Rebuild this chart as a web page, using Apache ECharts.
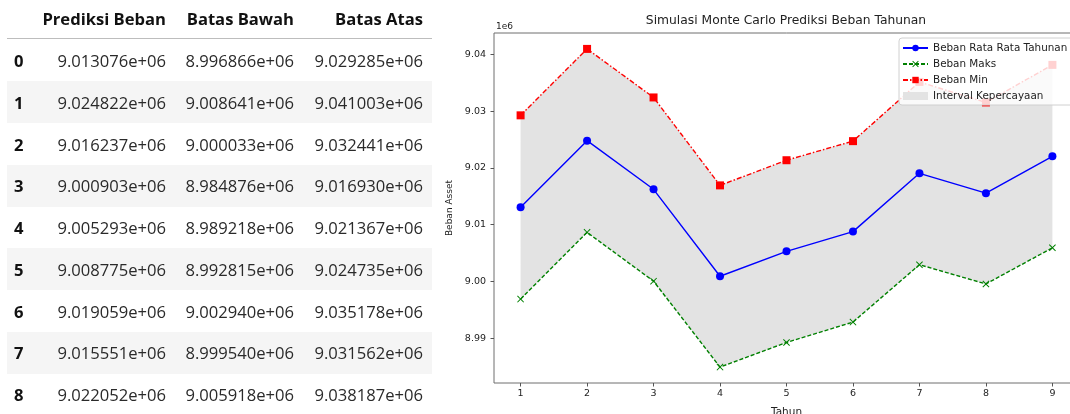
<!DOCTYPE html>
<html>
<head>
<meta charset="utf-8">
<script src="https://cdn.jsdelivr.net/npm/echarts@6/dist/echarts.min.js"></script>
<style>
  html, body { margin: 0; padding: 0; background: #fff; overflow: hidden; }
  #wrap { position: relative; width: 1070px; height: 414px; overflow: hidden; }
  #chart { position: absolute; left: 0; top: 0; width: 1100px; height: 414px; }
  #table { position: absolute; left: 0; top: 0; width: 440px; height: 414px; font-family: "Open Sans", sans-serif; color: #2a2a2a; }
  .band { position: absolute; left: 7px; width: 425px; background: #f5f5f5; }
  .rule { position: absolute; left: 7px; width: 425px; top: 38px; height: 1px; background: #bdbdbd; }
  .cell { position: absolute; white-space: nowrap; font-size: 16.6px; line-height: 20px; }
  .r { text-align: right; }
  .b { font-weight: 700; color: #111; }
</style>
</head>
<body>
<div id="wrap">
  <div id="chart"></div>
  <div id="table"></div>
</div>
<script>
// ---- data ----
const rowIndex = [0, 1, 2, 3, 4, 5, 6, 7, 8];
const years = [1, 2, 3, 4, 5, 6, 7, 8, 9];
const columns = ["Prediksi Beban", "Batas Bawah", "Batas Atas"];
const prediksiBeban = [9013076, 9024822, 9016237, 9000903, 9005293, 9008775, 9019059, 9015551, 9022052];
const batasBawah = [8996866, 9008641, 9000033, 8984876, 8989218, 8992815, 9002940, 8999540, 9005918];
const batasAtas = [9029285, 9041003, 9032441, 9016930, 9021367, 9024735, 9035178, 9031562, 9038187];
const yTicks = [8990000, 9000000, 9010000, 9020000, 9030000, 9040000];
const seriesNames = ["Beban Rata Rata Tahunan", "Beban Maks", "Beban Min", "Interval Kepercayaan"];
const titleText = "Simulasi Monte Carlo Prediksi Beban Tahunan";
const xName = "Tahun";
const yName = "Beban Asset";

// ---- table ----
function sci(v) {
  const s = v.toExponential(6);
  const m = s.match(/^(.*)e([+-])(\d+)$/);
  return m[1] + 'e' + m[2] + (m[3].length < 2 ? '0' + m[3] : m[3]);
}
const tbl = document.getElementById('table');
const colRight = [166, 294, 423];
const rowH = 41.75;
let html = '';
for (let i = 0; i < rowIndex.length; i++) {
  if (i % 2 === 1) html += `<div class="band" style="top:${39.5 + rowH * i}px;height:${rowH}px"></div>`;
}
html += '<div class="rule"></div>';
columns.forEach((c, j) => {
  html += `<div class="cell r b" style="right:${440 - colRight[j]}px;top:${19 - 10}px">${c}</div>`;
});
const cols = [prediksiBeban, batasBawah, batasAtas];
rowIndex.forEach((idx, i) => {
  const cy = 61 + rowH * i;
  html += `<div class="cell b" style="left:14px;top:${cy - 10}px">${idx}</div>`;
  cols.forEach((arr, j) => {
    html += `<div class="cell r" style="right:${440 - colRight[j]}px;top:${cy - 10}px">${sci(arr[i])}</div>`;
  });
});
tbl.innerHTML = html;

// ---- chart ----
const lo = Math.min(...batasBawah), hi = Math.max(...batasAtas);
const pad = (hi - lo) * 0.05;
const chart = echarts.init(document.getElementById('chart'), null, { renderer: 'canvas' });
const font = 'DejaVu Sans';
const txt = '#222';
const xMark = 'path://M1,0L5,4L9,0L10,1L6,5L10,9L9,10L5,6L1,10L0,9L4,5L0,1Z';

const bandData = years.map((y, i) => [y, batasBawah[i], batasAtas[i]]);

chart.setOption({
  animation: false,
  backgroundColor: 'transparent',
  textStyle: { fontFamily: font },
  grid: { left: 494, right: 21, top: 33, bottom: 31, outerBoundsMode: 'none', containLabel: false, show: true, borderColor: '#6e6e6e', borderWidth: 1, backgroundColor: 'transparent' },
  graphic: [
    { type: 'text', x: 786, y: 15, style: { text: titleText, font: '12.3px "DejaVu Sans"', fill: txt, textAlign: 'center' } },
    { type: 'text', x: 496, y: 22, style: { text: '1e6', font: '9px "DejaVu Sans"', fill: txt } }
  ],
  legend: {
    orient: 'vertical', left: 899, top: 38,
    itemWidth: 25, itemHeight: 8, itemGap: 6,
    backgroundColor: 'rgba(255,255,255,0.82)', borderColor: '#d0d0d0', borderWidth: 1, borderRadius: 3,
    padding: [5, 12, 4, 3],
    textStyle: { fontFamily: font, fontSize: 10.4, color: txt, padding: [0, 0, 0, 0] },
    data: [
      { name: seriesNames[0] },
      { name: seriesNames[1] },
      { name: seriesNames[2] },
      { name: seriesNames[3], icon: 'rect', itemStyle: { color: '#e3e3e3' } }
    ]
  },
  xAxis: {
    type: 'value', min: 0.6, max: 9.4,
    name: xName, nameLocation: 'middle', nameGap: 24,
    nameTextStyle: { fontFamily: font, fontSize: 10.5, color: txt },
    axisLine: { show: false },
    axisTick: { show: true, length: 3.5, lineStyle: { color: '#555' }, customValues: years },
    axisLabel: { fontFamily: font, fontSize: 9.5, color: txt, margin: 6, customValues: years, formatter: v => String(v) },
    splitLine: { show: false }
  },
  yAxis: {
    type: 'value', min: lo - pad, max: hi + pad,
    name: yName, nameLocation: 'middle', nameGap: 38,
    nameTextStyle: { fontFamily: font, fontSize: 9, color: txt },
    axisLine: { show: false },
    axisTick: { show: true, length: 3.5, lineStyle: { color: '#555' }, customValues: yTicks },
    axisLabel: { fontFamily: font, fontSize: 9.5, color: txt, margin: 8, customValues: yTicks, formatter: v => (v / 1e6).toFixed(2) },
    splitLine: { show: false }
  },
  series: [
    {
      name: seriesNames[3], type: 'custom', z: 1,
      itemStyle: { color: '#e3e3e3' },
      data: bandData,
      encode: { x: 0, y: [1, 2] },
      renderItem: function (params, api) {
        if (params.dataIndex !== 0) return null;
        const upper = bandData.map(d => api.coord([d[0], d[2]]));
        const lower = bandData.map(d => api.coord([d[0], d[1]])).reverse();
        return { type: 'polygon', shape: { points: upper.concat(lower) }, style: { fill: '#e3e3e3', stroke: null } };
      }
    },
    {
      name: seriesNames[0], type: 'line', z: 3,
      data: years.map((y, i) => [y, prediksiBeban[i]]),
      symbol: 'circle', symbolSize: 8, showAllSymbol: true,
      itemStyle: { color: '#0000ff' },
      lineStyle: { color: '#0000ff', width: 1.4 }
    },
    {
      name: seriesNames[1], type: 'line', z: 3,
      data: years.map((y, i) => [y, batasBawah[i]]),
      symbol: xMark, symbolSize: 7, showAllSymbol: true,
      itemStyle: { color: '#008000' },
      lineStyle: { color: '#008000', width: 1.4, type: [4, 2] }
    },
    {
      name: seriesNames[2], type: 'line', z: 3,
      data: years.map((y, i) => [y, batasAtas[i]]),
      symbol: 'rect', symbolSize: 8, showAllSymbol: true,
      itemStyle: { color: '#ff0000' },
      lineStyle: { color: '#ff0000', width: 1.4, type: [5, 2, 1.5, 2] }
    }
  ]
});
</script>
</body>
</html>
